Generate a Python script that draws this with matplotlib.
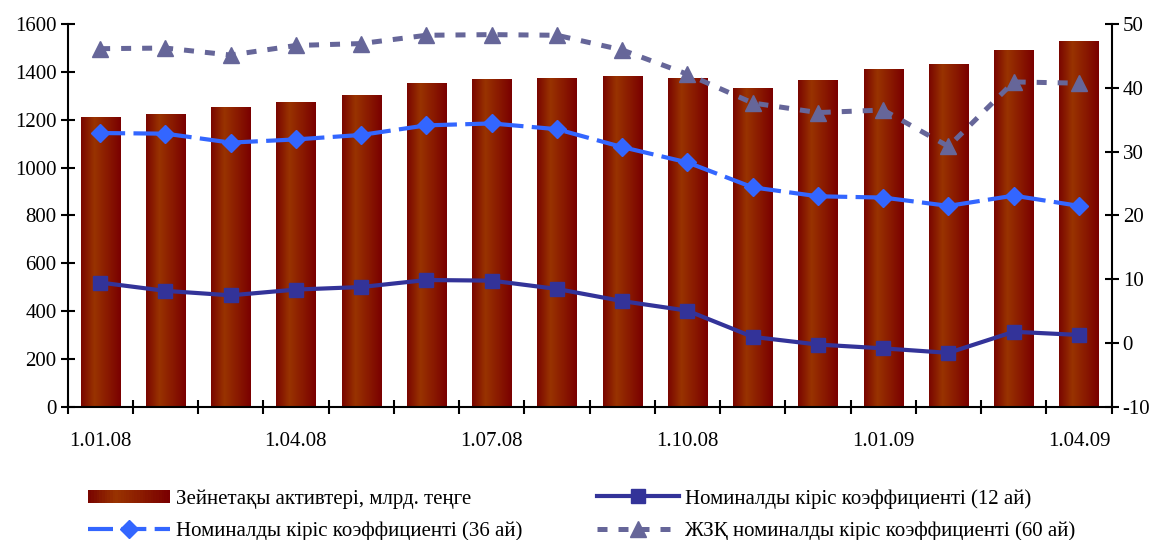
import matplotlib
matplotlib.use("Agg")
import matplotlib.pyplot as plt
import numpy as np
from matplotlib.colors import LinearSegmentedColormap
from matplotlib.patches import Rectangle
from matplotlib.legend_handler import HandlerBase

plt.rcParams['font.family'] = ['Liberation Serif', 'DejaVu Serif']
plt.rcParams['font.size'] = 15
plt.rcParams['axes.unicode_minus'] = False

# data
months = ["1.01.08", "1.02.08", "1.03.08", "1.04.08", "1.05.08", "1.06.08",
          "1.07.08", "1.08.08", "1.09.08", "1.10.08", "1.11.08", "1.12.08",
          "1.01.09", "1.02.09", "1.03.09", "1.04.09"]
assets = [1210, 1222, 1252, 1273, 1302, 1352, 1369, 1373, 1380, 1375,
          1330, 1367, 1413, 1430, 1492, 1530]
k12 = [9.5, 8.2, 7.5, 8.4, 8.8, 9.9, 9.8, 8.5, 6.6, 5.1, 1.0, -0.2, -0.8, -1.5, 1.8, 1.3]
k36 = [32.9, 32.8, 31.4, 31.9, 32.6, 34.1, 34.4, 33.5, 30.7, 28.3, 24.4, 23.0, 22.8, 21.5, 23.1, 21.5]
k60 = [46.1, 46.2, 45.1, 46.6, 46.9, 48.2, 48.3, 48.2, 45.9, 42.1, 37.6, 36.1, 36.5, 30.8, 40.9, 40.7]

lbl_bar = "Зейнетақы активтері, млрд. теңге"
lbl_12 = "Номиналды кіріс коэффициенті (12 ай)"
lbl_36 = "Номиналды кіріс коэффициенті (36 ай)"
lbl_60 = "ЖЗҚ номиналды кіріс коэффициенті (60 ай)"

bar_cmap = LinearSegmentedColormap.from_list("bar", ["#7a0600", "#993300", "#8a1a00", "#7a0000"])

x = np.arange(len(months))

fig = plt.figure(figsize=(11.64, 5.4), dpi=100)
ax1 = fig.add_axes([0.058, 0.246, 0.897, 0.71])
ax2 = ax1.twinx()

bars = ax1.bar(x, assets, width=0.6, color="none", edgecolor="none", zorder=2)
grad = np.linspace(0, 1, 64).reshape(1, -1)
for b in bars:
    x0, y0 = b.get_x(), b.get_y()
    w, h = b.get_width(), b.get_height()
    im = ax1.imshow(grad, cmap=bar_cmap, aspect="auto",
                    extent=(x0, x0 + w, y0, y0 + h), zorder=2)
    im.set_clip_path(b)

ax1.set_xlim(-0.5, len(months) - 0.5)
ax1.set_ylim(0, 1600)
ax1.set_yticks(range(0, 1601, 200))
ax2.set_ylim(-10, 50)
ax2.set_yticks(range(-10, 51, 10))

l12, = ax2.plot(x, k12, color="#333399", lw=3, marker="s", ms=10, zorder=5)
l36, = ax2.plot(x, k36, color="#3366ff", lw=3, marker="D", ms=9, zorder=4,
                dashes=(6, 2))
l60, = ax2.plot(x, k60, color="#666699", lw=3.6, marker="^", ms=11, zorder=3,
                dashes=(2, 2.2))

# x ticks: marks at category edges, labels every 3 months
ax1.set_xticks(np.arange(-0.5, len(months), 1.0))
ax1.set_xticklabels([])
ax1.set_xticks(x[::3], minor=True)
ax1.set_xticklabels([months[i] for i in x[::3]], minor=True)
ax1.tick_params(axis="x", which="major", direction="inout", length=10, width=1.5)
ax1.tick_params(axis="x", which="minor", length=0, pad=18)
ax1.tick_params(axis="y", direction="inout", length=10, width=1.5, pad=3)
ax2.tick_params(axis="y", direction="inout", length=10, width=1.5, pad=3)

for ax in (ax1, ax2):
    ax.spines["top"].set_visible(False)
    for s in ("left", "right", "bottom"):
        ax.spines[s].set_linewidth(1.5)
ax1.spines["right"].set_visible(False)
ax2.spines["left"].set_visible(False)
ax2.spines["bottom"].set_visible(False)


class GradientHandler(HandlerBase):
    def create_artists(self, legend, orig_handle, xdescent, ydescent,
                       width, height, fontsize, trans):
        n = 30
        arts = []
        for i in range(n):
            r = Rectangle((-xdescent + width * i / n, -ydescent + height * 0.05),
                          width / n * 1.05, height * 0.9,
                          facecolor=bar_cmap(i / (n - 1)), edgecolor="none",
                          transform=trans)
            arts.append(r)
        return arts


bar_handle = Rectangle((0, 0), 1, 1)
fig.legend([bar_handle, l36, l12, l60], [lbl_bar, lbl_36, lbl_12, lbl_60],
           handler_map={bar_handle: GradientHandler()},
           loc="upper left", bbox_to_anchor=(0.067, 0.114), ncol=2,
           frameon=False, handlelength=3.9, handletextpad=0.3,
           columnspacing=3.6, labelspacing=0.62, borderpad=0, fontsize=15)

fig.savefig("out.png", dpi=100)
